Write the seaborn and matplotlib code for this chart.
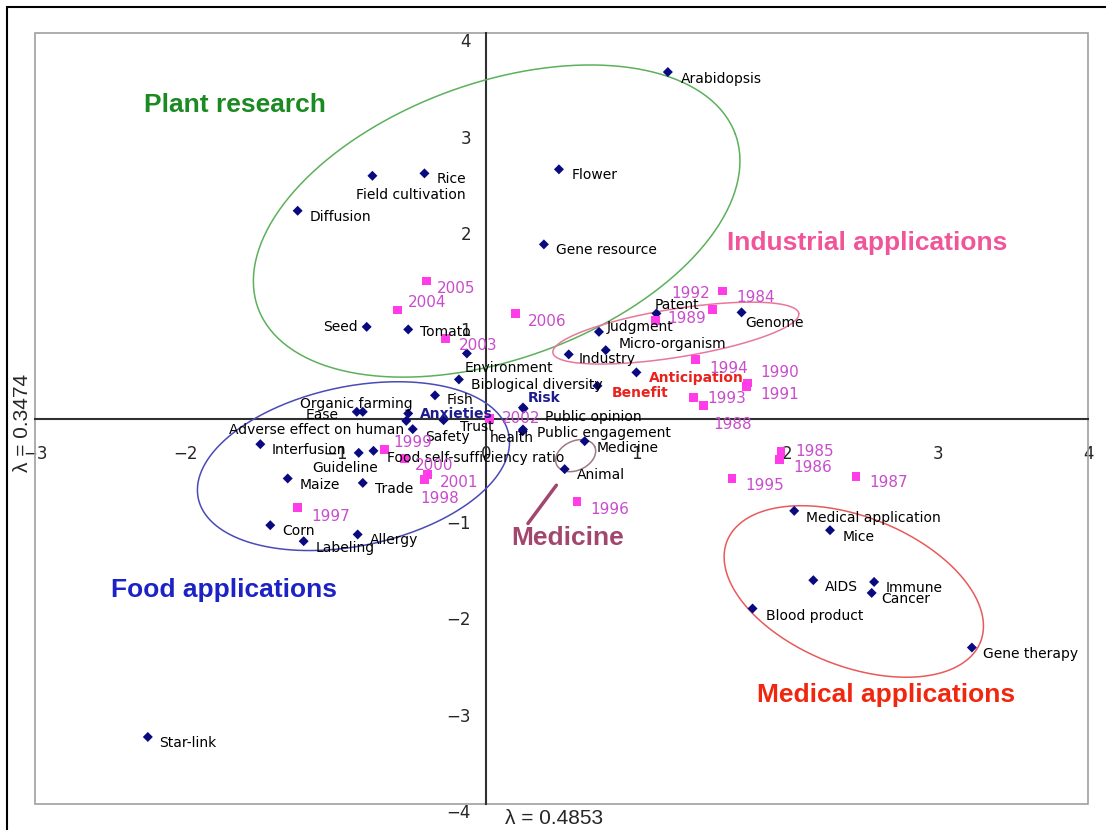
import numpy as np
import pandas as pd
import matplotlib
matplotlib.use("Agg")
import matplotlib.pyplot as plt
from matplotlib.patches import Rectangle
import seaborn as sns

# ---------------- data ----------------
terms = ["Arabidopsis", "Flower", "Gene resource", "Rice", "Field cultivation", "Diffusion",
         "Seed", "Tomato", "Environment", "Biological diversity", "Fish", "Organic farming",
         "Ease", "Anxieties", "Adverse effect on human", "Safety", "Trust", "Risk",
         "Public opinion", "Public engagement", "health", "Interfusion", "Guideline",
         "Food self-sufficiency ratio", "Maize", "Trade", "Corn", "Labeling", "Allergy",
         "Medicine", "Animal", "Industry", "Judgment", "Micro-organism", "Patent", "Genome",
         "Anticipation", "Benefit", "Medical application", "Mice", "AIDS", "Immune", "Cancer",
         "Blood product", "Gene therapy", "Star-link"]
term_x = [1.207, 0.483, 0.383, -0.411, -0.757, -1.254,
          -0.795, -0.519, -0.129, -0.182, -0.341, -0.821,
          -0.861, -0.519, -0.532, -0.489, -0.284, 0.244,
          0.248, 0.244, 0.242, -1.502, -0.848,
          -0.750, -1.320, -0.821, -1.436, -1.214, -0.855,
          0.654, 0.521, 0.548, 0.749, 0.794, 1.131, 1.697,
          0.998, 0.739, 2.047, 2.285, 2.174, 2.578, 2.562,
          1.770, 3.228, -2.250]
term_y = [3.598, 2.588, 1.809, 2.546, 2.521, 2.158,
          0.953, 0.926, 0.677, 0.407, 0.242, 0.071,
          0.071, 0.054, -0.023, -0.109, -0.016, 0.116,
          0.104, -0.112, -0.130, -0.265, -0.355,
          -0.334, -0.621, -0.667, -1.106, -1.272, -1.202,
          -0.234, -0.524, 0.667, 0.901, 0.711, 1.092, 1.103,
          0.480, 0.341, -0.957, -1.158, -1.677, -1.695, -1.809,
          -1.971, -2.376, -3.304]

years = ["1984", "1985", "1986", "1987", "1988", "1989", "1990", "1991", "1992", "1993",
         "1994", "1995", "1996", "1997", "1998", "1999", "2000", "2001", "2002", "2003",
         "2004", "2005", "2006"]
year_x = [1.568, 1.959, 1.947, 2.458, 1.442, 1.125, 1.739, 1.732, 1.502, 1.380,
          1.391, 1.633, 0.603, -1.254, -0.409, -0.675, -0.546, -0.389, 0.022, -0.271,
          -0.592, -0.399, 0.195]
year_y = [1.324, -0.345, -0.424, -0.604, 0.133, 1.016, 0.369, 0.337, 1.137, 0.216,
          0.615, -0.621, -0.860, -0.922, -0.631, -0.317, -0.413, -0.576, 0.002, 0.833,
          1.127, 1.428, 1.092]

x_ticks = [-3, -2, -1, 0, 1, 2, 3, 4]
y_ticks = [-4, -3, -2, -1, 0, 1, 2, 3, 4]
x_label = "λ = 0.4853"
y_label = "λ = 0.3474"

group_names = ["Plant research", "Industrial applications", "Food applications",
               "Medicine", "Medical applications"]

# ---------------- styling / placement ----------------
term_off = {  # label offsets in pixels (dx, dy downwards), ha
    "Arabidopsis": (13, 7), "Flower": (13, 6), "Field cultivation": (-16, 19),
    "Seed": (-9, 0, "right"), "Tomato": (12, 3), "Environment": (-2, 15),
    "Fish": (12, 5), "Organic farming": (-63, -8), "Ease": (-51, 3),
    "Anxieties": (12, 1), "Adverse effect on human": (-2, 9, "right"), "Safety": (12, 8),
    "Trust": (16, 7), "Risk": (5, -9), "Public opinion": (21, 8), "Public engagement": (14, 4),
    "health": (-33, 7), "Interfusion": (11, 6), "Guideline": (-46, 15),
    "Food self-sufficiency ratio": (14, 7), "Maize": (12, 7), "Labeling": (12, 7),
    "Medicine": (12, 7), "Industry": (10, 5), "Judgment": (8, -5), "Micro-organism": (13, -6),
    "Patent": (-2, -8), "Genome": (4, 11), "Anticipation": (13, 6), "Benefit": (14, 7),
    "Medical application": (12, 7), "Mice": (13, 7), "AIDS": (12, 7), "Cancer": (10, 6),
    "Blood product": (13, 7), "Gene therapy": (11, 6), "Star-link": (11, 6),
}
year_off = {
    "1984": (14, 6), "1985": (14, 0), "1986": (14, 8), "1987": (13, 6), "1988": (10, 19),
    "1989": (12, -2), "1990": (12, -11), "1991": (13, 8), "1992": (-2, -16, "right"),
    "1993": (13, 1), "1994": (14, 9), "1995": (13, 7), "1996": (13, 8), "1997": (14, 9),
    "1998": (-4, 19), "1999": (9, -7), "2000": (11, 7), "2001": (12, 8), "2002": (12, 0),
    "2003": (13, 7), "2004": (11, -8), "2005": (11, 7), "2006": (12, 8),
}
special_style = {
    "Anxieties": dict(color="#1c1c8c", fontweight="bold"),
    "Risk": dict(color="#1c1c8c", fontweight="bold"),
    "Anticipation": dict(color="#e8231e", fontweight="bold"),
    "Benefit": dict(color="#e8231e", fontweight="bold"),
}
group_pos = [(-1.668, 3.259), (2.531, 1.823), (-1.742, -1.781), (0.541, -1.241), (2.657, -2.871)]
group_col = ["#1b8a22", "#f0559a", "#1c22c4", "#a3466e", "#f0260e"]
# ellipses: centre (data), semi-axes (pixels), angle (deg), colour
ellipses = [((0.069, 2.051), 254, 138, 20.0, "#5cb05c"),
            ((1.260, 0.888), 124.5, 24.2, 9.1, "#e8789a"),
            ((-0.883, -0.493), 158.5, 79.7, 11.7, "#4a4ab8"),
            ((0.594, -0.384), 21.1, 14.6, 25.7, "#a07888"),
            ((2.443, -1.794), 136.4, 74.6, -21.75, "#e85a5a")]
pointer = ((0.466, 0.277), (-0.691, -1.088))

W, H = 1106, 830
sns.set_theme(style="white")
plt.rcParams["font.family"] = ["DejaVu Sans"]

fig = plt.figure(figsize=(W / 100, H / 100), dpi=100)
L, R, T, B = 35, 1088, 33.3, 804
ax = fig.add_axes([L / W, (H - B) / H, (R - L) / W, (B - T) / H])
ax.set_xlim(-3, 4)
ax.set_ylim(-4, 4)

tdf = pd.DataFrame({"x": term_x, "y": term_y, "label": terms})
ydf = pd.DataFrame({"x": year_x, "y": year_y, "label": years})
sns.scatterplot(data=tdf, x="x", y="y", marker="D", s=26, color="#0a0a80",
                edgecolor="none", ax=ax, zorder=4)
sns.scatterplot(data=ydf, x="x", y="y", marker="s", s=40, color="#ff3ce8",
                edgecolor="none", ax=ax, zorder=4)

for _, r in tdf.iterrows():
    o = term_off.get(r["label"], (12, 6))
    ha = o[2] if len(o) > 2 else "left"
    st = dict(color="black")
    st.update(special_style.get(r["label"], {}))
    ax.annotate(r["label"], (r["x"], r["y"]), xytext=(o[0], -o[1]), textcoords="offset pixels",
                ha=ha, va="center", fontsize=10, zorder=5, **st)
for _, r in ydf.iterrows():
    o = year_off.get(r["label"], (12, 6))
    ha = o[2] if len(o) > 2 else "left"
    ax.annotate(r["label"], (r["x"], r["y"]), xytext=(o[0], -o[1]), textcoords="offset pixels",
                ha=ha, va="center", fontsize=11, color="#c84ccc", zorder=5)

# ellipses drawn in pixel space around a data centre
p0 = ax.transData.transform((0, 0))
sx = ax.transData.transform((1, 0))[0] - p0[0]
sy = ax.transData.transform((0, 1))[1] - p0[1]
t = np.linspace(0, 2 * np.pi, 300)
for (cx, cy), a, b, ang, col in ellipses:
    ph = np.deg2rad(ang)
    dx = a * np.cos(t) * np.cos(ph) - b * np.sin(t) * np.sin(ph)
    dy = a * np.cos(t) * np.sin(ph) + b * np.sin(t) * np.cos(ph)
    ax.plot(cx + dx / sx, cy + dy / sy, color=col, lw=1.1, zorder=3)
ax.plot(pointer[0], pointer[1], color="#a3466e", lw=2.5, zorder=3)

for name, (gx, gy), col in zip(group_names, group_pos, group_col):
    ax.text(gx, gy, name, color=col, fontsize=19, fontweight="bold",
            family="Liberation Sans", ha="center", va="center", zorder=6)

# axes through origin
for s in ["top", "right"]:
    ax.spines[s].set_visible(False)
ax.spines["left"].set_position(("data", 0))
ax.spines["bottom"].set_position(("data", 0))
for s in ["left", "bottom"]:
    ax.spines[s].set_color("#303030")
    ax.spines[s].set_linewidth(1.5)
ax.set_xticks(x_ticks)
ax.set_yticks(y_ticks)
ax.set_xticklabels([f"{v:g}".replace("-", "\u2212") for v in x_ticks])
ax.set_yticklabels([("" if v == 0 else f"{v:g}".replace("-", "\u2212")) for v in y_ticks])
ax.tick_params(axis="x", direction="in", length=4, width=1, pad=19, labelsize=12,
               color="#303030")
ax.tick_params(axis="y", direction="in", length=4, width=1, pad=11, labelsize=12,
               color="#303030")
for lab in ax.get_yticklabels():
    lab.set_va("top")
ax.set_xlabel("")
ax.set_ylabel("")
ax.grid(False)

ax.add_patch(Rectangle((0, 0), 1, 1, transform=ax.transAxes, fill=False,
                       ec="#a0a0a0", lw=1.2, clip_on=False, zorder=1))
fig.text(505 / W, 1 - 818 / H, x_label, fontsize=15, family="Liberation Sans",
         ha="left", va="center")
fig.text(23 / W, 1 - 423 / H, y_label, fontsize=15, family="Liberation Sans",
         ha="center", va="center", rotation=90)
fig.add_artist(Rectangle((7 / W, -0.1), 1.5, 1 - 7 / H + 0.1, transform=fig.transFigure,
                         fill=False, ec="black", lw=1.5))

fig.savefig("out.png", dpi=100, facecolor="white")
